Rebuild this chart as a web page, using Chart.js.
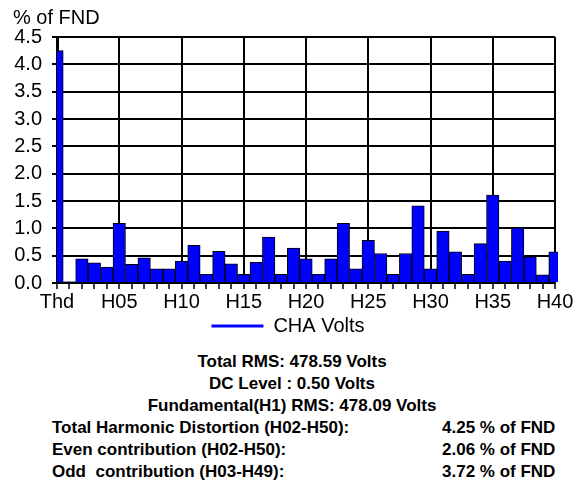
<!DOCTYPE html>
<html>
<head>
<meta charset="utf-8">
<script src="https://cdn.jsdelivr.net/npm/chart.js@4/dist/chart.umd.min.js"></script>
<style>
  html, body { margin: 0; padding: 0; background: #fff; }
  #wrap { position: relative; width: 584px; height: 481px; background: #fff; overflow: hidden;
          font-family: "Liberation Sans", Arial, sans-serif; color: #000; }
  #c { position: absolute; left: 0; top: 0; }
  .t { position: absolute; font-size: 20px; line-height: 24px; white-space: nowrap; }
  .b { position: absolute; font-size: 17px; font-weight: bold; line-height: 22px; white-space: nowrap; }
  .ctr { left: 0; width: 584px; text-align: center; }
</style>
</head>
<body>
<div id="wrap">
  <canvas id="c" width="584" height="346"></canvas>
  <div class="t" style="left:13px; top:5px;">% of FND</div>
  <div class="b ctr" style="top:351px;">Total RMS: 478.59 Volts</div>
  <div class="b ctr" style="top:373px;">DC Level : 0.50 Volts</div>
  <div class="b ctr" style="top:395px;">Fundamental(H1) RMS: 478.09 Volts</div>
  <div class="b" style="left:52px; top:417px;">Total Harmonic Distortion (H02-H50):</div>
  <div class="b" style="left:442px; top:417px;">4.25 % of FND</div>
  <div class="b" style="left:52px; top:439px;">Even contribution (H02-H50):</div>
  <div class="b" style="left:442px; top:439px;">2.06 % of FND</div>
  <div class="b" style="left:52px; top:461px;">Odd&nbsp; contribution (H03-H49):</div>
  <div class="b" style="left:442px; top:461px;">3.72 % of FND</div>
</div>
<script>
const categories = ['Thd','H01','H02','H03','H04','H05','H06','H07','H08','H09','H10',
  'H11','H12','H13','H14','H15','H16','H17','H18','H19','H20',
  'H21','H22','H23','H24','H25','H26','H27','H28','H29','H30',
  'H31','H32','H33','H34','H35','H36','H37','H38','H39','H40'];
const chaVolts = [4.25, 0.02, 0.44, 0.37, 0.29, 1.09, 0.34, 0.46, 0.26, 0.26, 0.40,
  0.69, 0.16, 0.58, 0.35, 0.16, 0.38, 0.84, 0.16, 0.64, 0.44,
  0.16, 0.44, 1.09, 0.26, 0.78, 0.54, 0.16, 0.54, 1.41, 0.26,
  0.95, 0.57, 0.16, 0.72, 1.61, 0.40, 1.01, 0.48, 0.15, 0.57];
const shownTickLabels = ['Thd','H05','H10','H15','H20','H25','H30','H35','H40'];
const seriesName = 'CHA Volts';

const FONT = '"Liberation Sans", Arial, sans-serif';

const legendShift = {
  id: 'legendShift',
  afterLayout(chart) {
    if (chart.legend) { chart.legend.left = 0; chart.legend.right = chart.width - 8; }
  }
};

new Chart(document.getElementById('c'), {
  type: 'bar',
  data: {
    labels: categories,
    datasets: [{
      label: seriesName,
      data: chaVolts,
      backgroundColor: '#0000FF',
      borderColor: '#000000',
      borderWidth: 1,
      borderSkipped: 'start',
      categoryPercentage: 1.0,
      barPercentage: 1.0,
      clip: { left: 0, top: 5, right: 3, bottom: 0 }
    }]
  },
  options: {
    responsive: false,
    animation: false,
    devicePixelRatio: 1,
    layout: { padding: { left: 0, top: 37, right: 29, bottom: 0 } },
    plugins: {
      legend: {
        position: 'bottom',
        labels: {
          color: '#000',
          font: { family: FONT, size: 20 },
          boxWidth: 52,
          boxHeight: 3,
          padding: 1,
          generateLabels: (chart) => [{
            text: seriesName, fillStyle: '#0000FF', strokeStyle: '#0000FF',
            lineWidth: 0, hidden: false, datasetIndex: 0
          }]
        }
      },
      tooltip: { enabled: false }
    },
    scales: {
      x: {
        type: 'category',
        offset: false,
        afterFit: (s) => { s.height = 32; },
        grid: {
          offset: false,
          color: (ctx) => (ctx.index % 5 === 0 ? '#000' : 'rgba(0,0,0,0)'),
          tickColor: '#000',
          lineWidth: 2,
          tickWidth: 1.5,
          tickLength: 6,
          drawTicks: true
        },
        border: { color: '#000', width: 2 },
        ticks: {
          autoSkip: false,
          maxRotation: 0,
          minRotation: 0,
          padding: 1,
          color: '#000',
          font: { family: FONT, size: 20, lineHeight: 1.2 },
          callback: function (v, i) {
            const lab = categories[i];
            return shownTickLabels.includes(lab) ? lab : '';
          }
        }
      },
      y: {
        min: 0,
        max: 4.5,
        afterFit: (s) => { s.width = 57; },
        grid: { color: '#000', lineWidth: 2, tickLength: 5, drawTicks: true },
        border: { color: '#000', width: 3 },
        ticks: {
          stepSize: 0.5,
          padding: 10,
          color: '#000',
          font: { family: FONT, size: 20 },
          callback: (v) => Number(v).toFixed(1)
        }
      }
    }
  },
  plugins: [legendShift]
});
</script>
</body>
</html>
